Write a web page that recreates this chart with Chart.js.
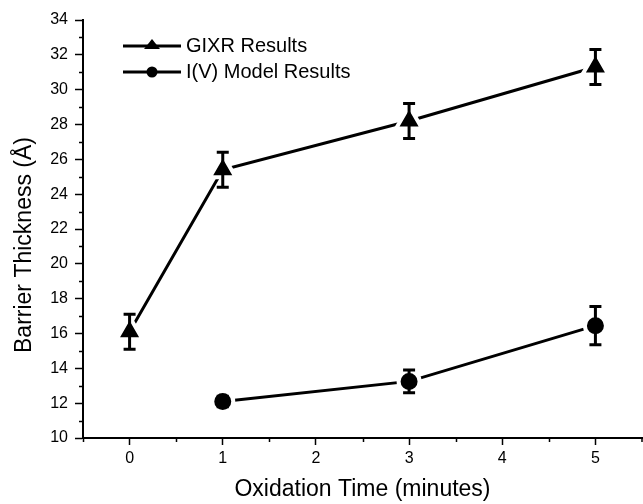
<!DOCTYPE html>
<html>
<head>
<meta charset="utf-8">
<script src="https://cdn.jsdelivr.net/npm/chart.js@4"></script>
<style>
html,body{margin:0;padding:0;background:#fff;}
#wrap{width:643px;height:504px;position:relative;}
</style>
</head>
<body>
<div id="wrap"><canvas id="c" width="643" height="504"></canvas></div>
<script>
// ---- data ----
const gixrTimes = [0, 1, 3, 5];
const gixrValues = [16.1, 25.4, 28.2, 31.3];
const gixrErrors = [1.0, 1.0, 1.0, 1.0];
const ivTimes = [1, 3, 5];
const ivValues = [12.1, 13.25, 16.45];
const ivErrors = [0.3, 0.65, 1.1];
const seriesNames = ['GIXR Results', 'I(V) Model Results'];
const xTickValues = [0, 1, 2, 3, 4, 5];
const xTitle = 'Oxidation Time (minutes)';
const yTitle = 'Barrier Thickness (Å)';
const xMin = -0.5, xMax = 5.5, yMin = 10, yMax = 34;

const FONT = "'Liberation Sans', Arial, Helvetica, sans-serif";

function pts(xs, ys) { return xs.map((x, i) => ({x: x, y: ys[i]})); }

const errorBarPlugin = {
  id: 'errorBars',
  afterDatasetsDraw(chart) {
    const ctx = chart.ctx;
    const xs = chart.scales.x, ys = chart.scales.y;
    chart.data.datasets.forEach(ds => {
      if (!ds.errors) return;
      ctx.save();
      ctx.strokeStyle = '#000';
      ctx.lineWidth = 3;
      ds.data.forEach((p, i) => {
        const e = ds.errors[i];
        const px = xs.getPixelForValue(p.x);
        const top = ys.getPixelForValue(p.y + e);
        const bot = ys.getPixelForValue(p.y - e);
        ctx.beginPath();
        ctx.moveTo(px, top); ctx.lineTo(px, bot);
        ctx.moveTo(px - 6, top); ctx.lineTo(px + 6, top);
        ctx.moveTo(px - 6, bot); ctx.lineTo(px + 6, bot);
        ctx.stroke();
      });
      ctx.restore();
    });
  }
};

const decorPlugin = {
  id: 'decor',
  afterDraw(chart) {
    const ctx = chart.ctx;
    const xs = chart.scales.x, ys = chart.scales.y;
    const area = chart.chartArea;
    ctx.save();
    ctx.strokeStyle = '#000';
    ctx.lineWidth = 1.5;
    // minor ticks
    ctx.beginPath();
    for (let v = yMin + 1; v < yMax; v += 2) {
      const py = Math.round(ys.getPixelForValue(v)) + 0.5;
      ctx.moveTo(area.left - 4, py); ctx.lineTo(area.left, py);
    }
    for (let v = xMin; v <= xMax; v += 1) {
      const px = Math.min(Math.round(xs.getPixelForValue(v)) + 0.5, chart.width - 1);
      ctx.moveTo(px, area.bottom); ctx.lineTo(px, area.bottom + 4);
    }
    ctx.stroke();
    // y title
    ctx.fillStyle = '#000';
    ctx.font = '23px ' + FONT;
    ctx.textAlign = 'center';
    ctx.textBaseline = 'middle';
    ctx.translate(25, 245);
    ctx.rotate(-Math.PI / 2);
    ctx.fillText(yTitle, 0, 0);
    ctx.restore();

    // legend
    ctx.save();
    const rows = [{y: 46, style: 'triangle'}, {y: 72, style: 'circle'}];
    rows.forEach((r, i) => {
      ctx.strokeStyle = '#000';
      ctx.lineWidth = 3;
      ctx.beginPath();
      ctx.moveTo(123, r.y); ctx.lineTo(181, r.y);
      ctx.stroke();
      ctx.fillStyle = '#000';
      ctx.beginPath();
      if (r.style === 'triangle') {
        ctx.moveTo(152, r.y - 7);
        ctx.lineTo(160, r.y + 3);
        ctx.lineTo(144, r.y + 3);
        ctx.closePath();
      } else {
        ctx.arc(152, r.y, 5.5, 0, Math.PI * 2);
      }
      ctx.fill();
      ctx.font = '20px ' + FONT;
      ctx.textAlign = 'left';
      ctx.textBaseline = 'middle';
      ctx.fillText(seriesNames[i], 186, r.y);
    });
    ctx.restore();
  }
};

new Chart(document.getElementById('c'), {
  type: 'line',
  data: {
    datasets: [
      {
        label: seriesNames[0],
        data: pts(gixrTimes, gixrValues),
        errors: gixrErrors,
        borderColor: '#000',
        borderWidth: 3,
        pointStyle: 'triangle',
        pointRadius: 15,
        pointBackgroundColor: '#000',
        pointBorderColor: '#fff',
        pointBorderWidth: 4,
        tension: 0
      },
      {
        label: seriesNames[1],
        data: pts(ivTimes, ivValues),
        errors: ivErrors,
        borderColor: '#000',
        borderWidth: 3,
        pointStyle: 'circle',
        pointRadius: 10.5,
        pointBackgroundColor: '#000',
        pointBorderColor: '#fff',
        pointBorderWidth: 4,
        tension: 0
      }
    ]
  },
  options: {
    responsive: false,
    animation: false,
    devicePixelRatio: 1,
    layout: {autoPadding: false, padding: {top: 20, right: 1, left: 0, bottom: 0}},
    plugins: {legend: {display: false}, tooltip: {enabled: false}},
    scales: {
      x: {
        type: 'linear',
        min: xMin, max: xMax,
        afterFit(s) { s.height = 66; s.paddingLeft = 0; s.paddingRight = 0; },
        ticks: {
          autoSkip: false,
          maxRotation: 0,
          color: '#000',
          padding: 4,
          font: {family: FONT, size: 16},
          callback: v => String(v)
        },
        afterBuildTicks(s) {
          s.ticks = xTickValues.map(v => ({value: v}));
        },
        grid: {drawOnChartArea: false, drawTicks: true, tickLength: 7, tickColor: '#000', tickWidth: 1.5},
        border: {display: true, color: '#000', width: 2},
        title: {display: true, text: xTitle, color: '#000', font: {family: FONT, size: 23}, padding: {top: 0, bottom: 1}}
      },
      y: {
        type: 'linear',
        min: yMin, max: yMax,
        afterFit(s) { s.width = 83; },
        ticks: {
          stepSize: 2,
          autoSkip: false,
          color: '#000',
          padding: 7,
          font: {family: FONT, size: 16}
        },
        grid: {drawOnChartArea: false, drawTicks: true, tickLength: 8, tickColor: '#000', tickWidth: 1.5},
        border: {display: true, color: '#000', width: 2},
        title: {display: false}
      }
    }
  },
  plugins: [errorBarPlugin, decorPlugin]
});
</script>
</body>
</html>
